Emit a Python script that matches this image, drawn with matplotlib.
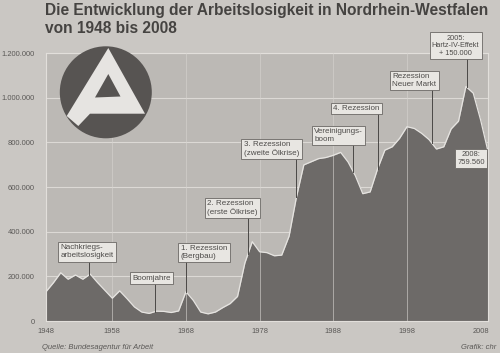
import numpy as np
import matplotlib
matplotlib.use("Agg")
import matplotlib.pyplot as plt
from matplotlib.patches import Circle, Polygon

plt.rcParams['font.family'] = ['Liberation Sans', 'DejaVu Sans']

# jobless people in NRW, yearly values
years = list(range(1948, 2009))
jobless = [131000, 171000, 216000, 187000, 206000, 187000, 210000, 172000, 137000, 102000,
           135000, 100000, 63000, 40000, 34000, 44000, 43000, 38000, 45000, 131000,
           92000, 40000, 32000, 40000, 60000, 78000, 110000, 260000, 355000, 310000,
           306000, 292000, 295000, 380000, 555000, 699000, 713000, 727000, 732000, 742000,
           755000, 712000, 650000, 570000, 578000, 680000, 765000, 780000, 818000, 870000,
           862000, 840000, 812000, 770000, 780000, 860000, 895000, 1050000, 1020000, 900000,
           759560]

y_ticks = [0, 200000, 400000, 600000, 800000, 1000000, 1200000]
x_ticks = [1948, 1958, 1968, 1978, 1988, 1998, 2008]

# annotation texts, box anchor (year, value), line position (year) or None
notes = ["Nachkriegs-\narbeitslosigkeit", "Boomjahre", "1. Rezession\n(Bergbau)",
         "2. Rezession\n(erste Ölkrise)", "3. Rezession\n(zweite Ölkrise)",
         "Vereinigungs-\nboom", "4. Rezession", "Rezession\nNeuer Markt",
         "2005:\nHartz-IV-Effekt\n+ 150.000", "2008:\n759.560"]
note_xy = [(1951.0, 277000), (1960.7, 175000), (1967.3, 273000), (1970.85, 470000),
           (1975.85, 734000), (1985.4, 797000), (1988.0, 936000), (1996.0, 1043000),
           (2004.6, 1182000), (2006.7, 694000)]
note_line = [1954.9, 1963.8, 1968.0, 1976.4, 1983.0, 1990.7, 1994.0, 2001.35, 2006.1, None]
note_ha = ['left'] * 8 + ['center', 'center']
note_size = [5.8] * 8 + [5.3, 5.5]

PAPER = '#cac7c3'
PLOT_BG = '#bcb9b5'
FILL = '#6d6a68'
TXT = '#4d4b49'

fig = plt.figure(figsize=(5.0, 3.53), dpi=100, facecolor=PAPER)
ax = fig.add_axes([46 / 500, 32 / 353, 442 / 500, 268 / 353])
ax.set_facecolor(PLOT_BG)

# yearly averages are drawn at the end of each year, grid lines mark the year start
xpos = np.array(years) + 1.0
vals = np.array(jobless)

ax.fill_between(xpos, vals, 0, color=FILL, lw=0, zorder=2)
ax.plot(xpos, vals, color='#e6e4e1', lw=0.9, zorder=4)

ax.set_xlim(1949, 2009)
ax.set_ylim(0, 1200000)

for yv in y_ticks[1:]:
    ax.axhline(yv, color='#dcd9d5', lw=0.8, zorder=1)
for xv in x_ticks[1:-1]:
    ax.axvline(xv, color='#d6d3cf', lw=0.7, alpha=0.6, zorder=3)

ax.set_yticks(y_ticks)
ax.set_yticklabels([f"{v:,}".replace(',', '.') for v in y_ticks])
tick_x = [1949.0] + x_ticks[1:]
ax.set_xticks(tick_x)
ax.set_xticklabels([str(v) for v in x_ticks])
ax.tick_params(length=0, labelsize=5.4, labelcolor='#5a5856')
ax.tick_params(axis='y', pad=8)
ax.tick_params(axis='x', pad=5)
for sp in ax.spines.values():
    sp.set_color('#e2dfdb')
    sp.set_linewidth(0.8)

box = dict(boxstyle='square,pad=0.3', fc='#e8e6e2', ec='#6b6865', lw=0.6)
for text, (bx, by), lx, ha, fs in zip(notes, note_xy, note_line, note_ha, note_size):
    if lx is not None:
        v = np.interp(lx, xpos, vals)
        ax.plot([lx, lx], [v, by + 20000], color='#4a4846', lw=0.7, zorder=5,
                clip_on=False)
    ax.text(bx, by, text, ha=ha, va='bottom', fontsize=fs, color=TXT,
            linespacing=1.15, bbox=box, zorder=6, clip_on=False)

# Bundesagentur logo
lax = fig.add_axes([58 / 500, 1 - 141 / 353, 96 / 500, 97 / 353])
lax.set_xlim(58, 154)
lax.set_ylim(141, 44)
lax.set_aspect('equal')
lax.axis('off')
lax.add_patch(Circle((105.8, 92.3), 46, fc='#575452', ec='none'))
lax.add_patch(Polygon([(108.3, 48), (145, 113.7), (90, 113.7), (78.3, 126), (66.7, 116)],
                      closed=True, fc='#e6e4e1', ec='none'))
lax.add_patch(Polygon([(108.3, 74), (95, 97.5), (120.5, 96.5)], closed=True,
                      fc='#575452', ec='none'))

fig.text(45 / 500, 1 - 3 / 353,
         "Die Entwicklung der Arbeitslosigkeit in Nordrhein-Westfalen\nvon 1948 bis 2008",
         ha='left', va='top', fontsize=11.2, fontweight='bold', color='#454341',
         linespacing=1.22)
fig.text(42 / 500, 1 - 349 / 353, "Quelle: Bundesagentur für Arbeit", ha='left',
         va='baseline', fontsize=5.5, style='italic', color='#5a5856')
fig.text(496 / 500, 1 - 349 / 353, "Grafik: chr", ha='right', va='baseline',
         fontsize=5.5, style='italic', color='#5a5856')

fig.savefig('out.png', dpi=100, facecolor=PAPER)
